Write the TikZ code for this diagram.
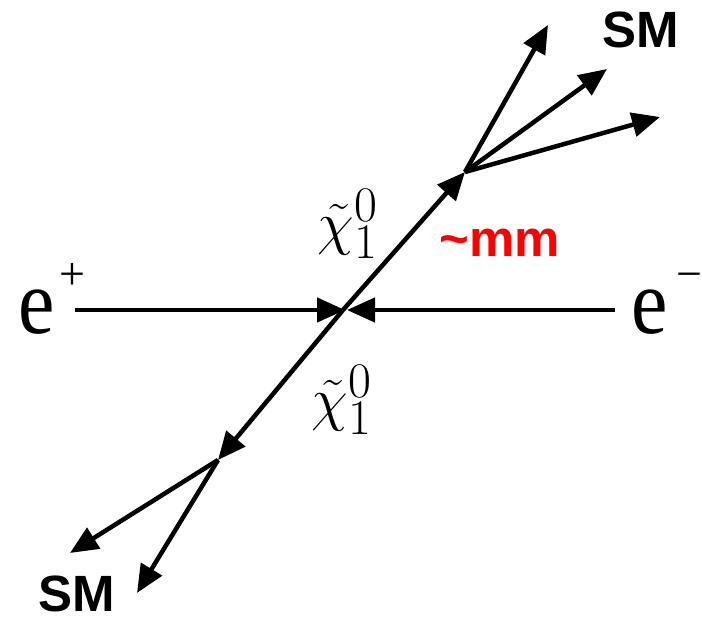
\documentclass[tikz,border=0pt]{standalone}
\usepackage{fontspec}
\setmainfont{Liberation Serif}
\newfontfamily\labelsans{Liberation Sans}
\usetikzlibrary{arrows.meta}
\tikzset{
  leg/.style={line width=4.5pt},
  smlabel/.style={font=\labelsans\bfseries\fontsize{51}{51}\selectfont, inner sep=0pt},
  beamlabel/.style={font=\fontsize{82}{82}\selectfont, inner sep=0pt, anchor=base west},
  chargelabel/.style={font=\fontsize{46}{46}\selectfont, inner sep=0pt},
  chilabel/.style={font=\Huge, scale=2.4, inner sep=0pt}
}
\begin{document}
\begin{tikzpicture}[x=1pt, y=-1pt, >={Triangle[length=28pt,width=24pt]}]
    \useasboundingbox (0,0) rectangle (702,617);
    % vertices
    \coordinate (ip) at (343,310);
    \coordinate (dk1) at (465,172);
    \coordinate (dk2) at (218,460);
    \coordinate (ebeam) at (75,310);
    \coordinate (pbeam) at (615,310);
    \coordinate (sa) at (548,25);
    \coordinate (sb) at (607,69);
    \coordinate (sc) at (660,117);
    \coordinate (sd) at (70,553);
    \coordinate (se) at (137,593);
    % beams
    \node[beamlabel] (eplus) at (18,334) {\scalebox{1}[1.13]{e}};
    \node[chargelabel] (plus) at (72,277) {+};
    \node[beamlabel] (eminus) at (631,334) {\scalebox{1}[1.13]{e}};
    \node[chargelabel] (minus) at (689,281) {\char"2212};
    \draw[leg, ->] (ebeam) -- ([xshift=2pt]ip);
    \draw[leg, ->] (pbeam) -- ([xshift=4pt]ip);
    % neutralinos
    \draw[leg, ->] (ip) -- (dk1);
    \draw[leg, ->] (ip) -- (dk2);
    \node[chilabel] (chiup) at (348,224) {$\tilde{\chi}_1^0$};
    \node[chilabel] (chidn) at (342,400) {$\tilde{\chi}_1^0$};
    \node[font=\labelsans\bfseries\fontsize{51}{51}\selectfont, text=red, inner sep=0pt] (dist) at (500,243) {\char`\~mm};
    % decay products
    \draw[leg, ->] (dk1) -- (sa);
    \draw[leg, ->] (dk1) -- (sb);
    \draw[leg, ->] (dk1) -- (sc);
    \draw[leg, ->] (dk2) -- (sd);
    \draw[leg, ->] (dk2) -- (se);
    \node[smlabel] (smup) at (641,30) {SM};
    \node[smlabel] (smdn) at (77,594) {SM};
\end{tikzpicture}
\end{document}
